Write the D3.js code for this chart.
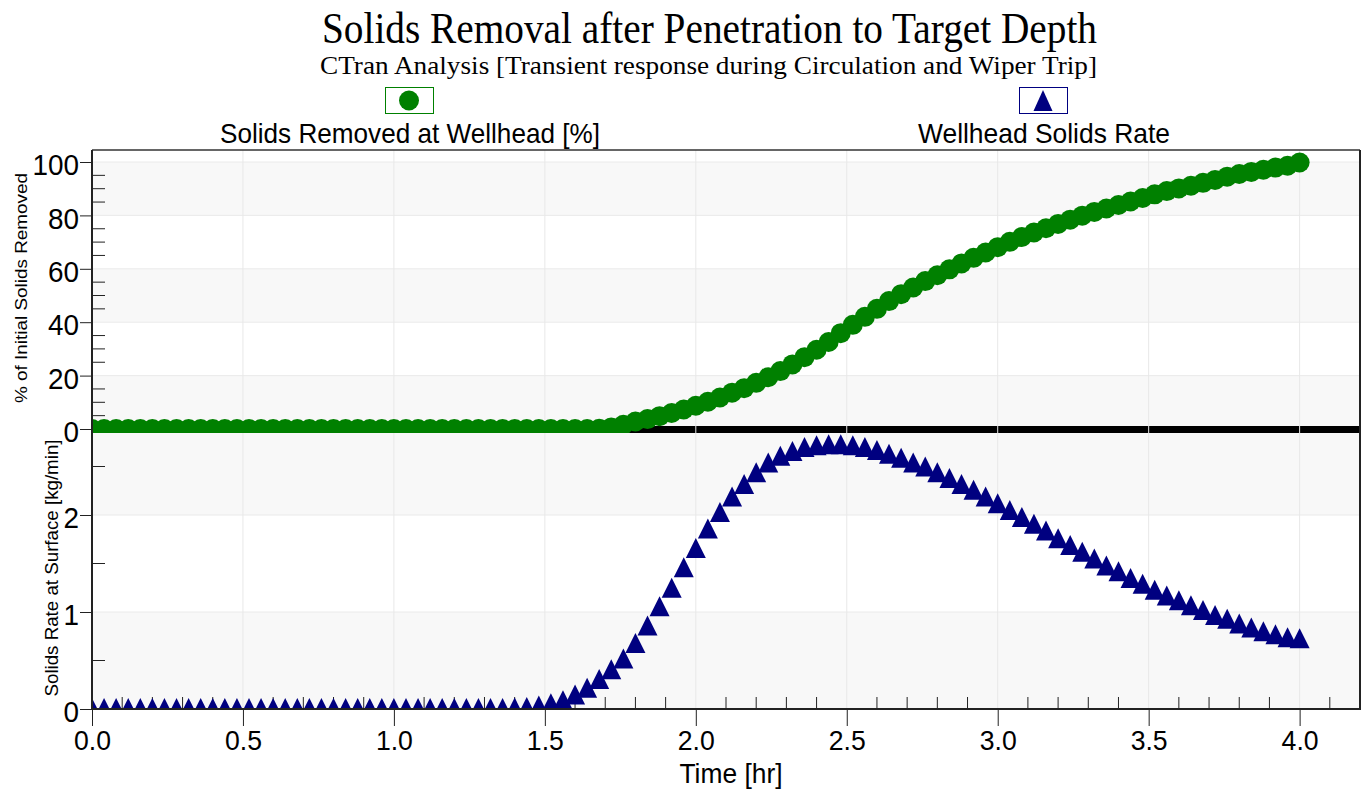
<!DOCTYPE html>
<html>
<head>
<meta charset="utf-8">
<script src="https://cdn.jsdelivr.net/npm/d3@7"></script>
<style>
  html, body { margin: 0; padding: 0; background: #fff; }
  svg { display: block; }
</style>
</head>
<body>
<svg id="chart" width="1364" height="792"></svg>
<script>
// ---------------- DATA ----------------
const timeHr = [
  0.00,0.04,0.08,0.12,0.16,0.20,0.24,0.28,0.32,0.36,
  0.40,0.44,0.48,0.52,0.56,0.60,0.64,0.68,0.72,0.76,
  0.80,0.84,0.88,0.92,0.96,1.00,1.04,1.08,1.12,1.16,
  1.20,1.24,1.28,1.32,1.36,1.40,1.44,1.48,1.52,1.56,
  1.60,1.64,1.68,1.72,1.76,1.80,1.84,1.88,1.92,1.96,
  2.00,2.04,2.08,2.12,2.16,2.20,2.24,2.28,2.32,2.36,
  2.40,2.44,2.48,2.52,2.56,2.60,2.64,2.68,2.72,2.76,
  2.80,2.84,2.88,2.92,2.96,3.00,3.04,3.08,3.12,3.16,
  3.20,3.24,3.28,3.32,3.36,3.40,3.44,3.48,3.52,3.56,
  3.60,3.64,3.68,3.72,3.76,3.80,3.84,3.88,3.92,3.96,
  4.00
];
// Solids Removed at Wellhead [%]
const solidsRemovedPct = [
  0,0,0,0,0,0,0,0,0,0,
  0,0,0,0,0,0,0,0,0,0,
  0,0,0,0,0,0,0,0,0,0,
  0,0,0,0,0,0,0,0,0,0,
  0,0,0.1,0.6,1.6,2.8,3.7,4.8,6.0,7.3,
  8.7,10.2,11.8,13.6,15.3,17.3,19.4,21.7,24.2,26.9,
  29.7,32.6,35.9,39.0,42.0,45.0,47.9,50.5,53.0,55.4,
  57.6,59.8,62.0,64.1,66.1,68.1,70.1,71.9,73.6,75.2,
  76.8,78.4,79.9,81.3,82.6,83.9,85.2,86.5,87.9,89.1,
  90.1,91.1,92.2,93.3,94.5,95.5,96.3,97.1,97.9,98.6,
  99.8
];
// Wellhead Solids Rate [kg/min]
const solidsRate = [
  0,0,0,0,0,0,0,0,0,0,
  0,0,0,0,0,0,0,0,0,0,
  0,0,0,0,0,0,0,0,0,0,
  0,0,0,0,0,0.005,0.01,0.025,0.05,0.08,
  0.14,0.21,0.30,0.40,0.51,0.67,0.85,1.05,1.24,1.45,
  1.65,1.85,2.02,2.18,2.31,2.43,2.53,2.60,2.65,2.69,
  2.71,2.72,2.72,2.71,2.69,2.66,2.62,2.58,2.53,2.49,
  2.43,2.37,2.31,2.25,2.18,2.11,2.04,1.97,1.90,1.83,
  1.75,1.68,1.61,1.54,1.47,1.41,1.34,1.28,1.22,1.16,
  1.11,1.06,1.01,0.96,0.92,0.87,0.83,0.79,0.76,0.73,
  0.72
];
const xTicks = [0.0,0.5,1.0,1.5,2.0,2.5,3.0,3.5,4.0];
const xMinorTicks = [0.1,0.2,0.3,0.4,0.6,0.7,0.8,0.9,1.1,1.2,1.3,1.4,1.6,1.7,1.8,1.9,2.1,2.2,2.3,2.4,2.6,2.7,2.8,2.9,3.1,3.2,3.3,3.4,3.6,3.7,3.8,3.9,4.1];
const yTopTicks = [0,20,40,60,80,100];
const yTopMinorTicks = [5,10,15,25,30,35,45,50,55,65,70,75,85,90,95];
const yBotTicks = [0,1,2];
const yBotMinorTicks = [0.5,1.5,2.5];
const titleText = "Solids Removal after Penetration to Target Depth";
const subtitleText = "CTran Analysis [Transient response during Circulation and Wiper Trip]";
const seriesNames = ["Solids Removed at Wellhead [%]", "Wellhead Solids Rate"];
const yTopLabel = "% of Initial Solids Removed";
const yBotLabel = "Solids Rate at Surface [kg/min]";
const xLabel = "Time [hr]";

// ---------------- LAYOUT ----------------
const L = 92, R = 1360, T = 150, MID = 429, B = 709;
const GREEN = "#008000", NAVY = "#000080";
const SANS = "'Liberation Sans', Arial, sans-serif";
const SERIF = "'Liberation Serif', 'Times New Roman', serif";

const svg = d3.select("#chart");
const x = d3.scaleLinear().domain([0, 4.2]).range([L, R]);
const yTop = d3.scaleLinear().domain([0, 100]).range([MID, 162]);
const yBot = d3.scaleLinear().domain([0, 2]).range([B, 515]);

const defs = svg.append("defs");
defs.append("clipPath").attr("id", "clipTop").append("rect")
  .attr("x", L).attr("y", T).attr("width", R - L).attr("height", 433 - T);
defs.append("clipPath").attr("id", "clipBot").append("rect")
  .attr("x", L).attr("y", 433).attr("width", R - L).attr("height", B - 433);

// bands
const topBands = [[0,20],[40,60],[80,100]];
svg.append("g").selectAll("rect").data(topBands).join("rect")
  .attr("x", L).attr("width", R - L)
  .attr("y", d => yTop(d[1])).attr("height", d => yTop(d[0]) - yTop(d[1]))
  .attr("fill", "#f8f8f8");
const botBands = [[0,1],[2,yBot.invert(MID)]];
svg.append("g").selectAll("rect").data(botBands).join("rect")
  .attr("x", L).attr("width", R - L)
  .attr("y", d => yBot(d[1])).attr("height", d => yBot(d[0]) - yBot(d[1]))
  .attr("fill", "#f8f8f8");

// horizontal gridlines
svg.append("g").selectAll("line").data(yTopTicks.filter(v => v > 0)).join("line")
  .attr("x1", L).attr("x2", R).attr("y1", d => yTop(d)).attr("y2", d => yTop(d))
  .attr("stroke", "#eaeaea").attr("stroke-width", 1);
svg.append("g").selectAll("line").data(yBotTicks.filter(v => v > 0)).join("line")
  .attr("x1", L).attr("x2", R).attr("y1", d => yBot(d)).attr("y2", d => yBot(d))
  .attr("stroke", "#eaeaea").attr("stroke-width", 1);

// thick separator bar
svg.append("rect").attr("x", L).attr("y", 426).attr("width", R - L).attr("height", 7).attr("fill", "#000");

// vertical gridlines (drawn over bar)
svg.append("g").selectAll("line").data(xTicks.filter(v => v > 0)).join("line")
  .attr("x1", d => x(d)).attr("x2", d => x(d)).attr("y1", T).attr("y2", B)
  .attr("stroke", "#e8e8e8").attr("stroke-width", 1);

// bottom minor ticks (inward)
svg.append("g").selectAll("line").data(xMinorTicks).join("line")
  .attr("x1", d => x(d)).attr("x2", d => x(d)).attr("y1", B).attr("y2", B - 12)
  .attr("stroke", "#222").attr("stroke-width", 1);

// series
const pts = timeHr.map((t, i) => ({ t, p: solidsRemovedPct[i], r: solidsRate[i] }));
svg.append("g").attr("clip-path", "url(#clipTop)")
  .selectAll("circle").data(pts).join("circle")
  .attr("cx", d => x(d.t)).attr("cy", d => yTop(d.p)).attr("r", 10)
  .attr("fill", GREEN);

const tri = "M0,-11L10,9L-10,9Z";
svg.append("g").attr("clip-path", "url(#clipBot)")
  .selectAll("path").data(pts).join("path")
  .attr("d", tri)
  .attr("transform", d => `translate(${x(d.t)},${yBot(d.r)})`)
  .attr("fill", NAVY);

// frame top & right
svg.append("line").attr("x1", L).attr("x2", R).attr("y1", T).attr("y2", T).attr("stroke", "#333").attr("stroke-width", 1.5);
svg.append("line").attr("x1", R).attr("x2", R).attr("y1", T).attr("y2", B).attr("stroke", "#222").attr("stroke-width", 2);

// left axis - top
const axTop = d3.axisLeft(yTop).tickValues(yTopTicks).tickSize(12).tickSizeOuter(0).tickPadding(1).tickFormat(d3.format("d"));
const gTop = svg.append("g").attr("transform", `translate(${L},0)`).call(axTop);
gTop.select(".domain").remove();
gTop.selectAll(".tick line").attr("stroke", "#222").attr("stroke-width", 1);
gTop.selectAll(".tick text").attr("font-family", SANS).attr("font-size", 29).attr("fill", "#000").attr("dy", "0.44em")
  .attr("textLength", d => String(d).length * 15.5).attr("lengthAdjust", "spacingAndGlyphs");

svg.append("g").selectAll("line").data(yTopMinorTicks).join("line")
  .attr("x1", L).attr("x2", L + 13).attr("y1", d => yTop(d)).attr("y2", d => yTop(d))
  .attr("stroke", "#222").attr("stroke-width", 1);

// left axis - bottom
const axBot = d3.axisLeft(yBot).tickValues(yBotTicks).tickSize(12).tickSizeOuter(0).tickPadding(1).tickFormat(d3.format("d"));
const gBot = svg.append("g").attr("transform", `translate(${L},0)`).call(axBot);
gBot.select(".domain").remove();
gBot.selectAll(".tick line").attr("stroke", "#222").attr("stroke-width", 1);
gBot.selectAll(".tick text").attr("font-family", SANS).attr("font-size", 29).attr("fill", "#000").attr("dy", "0.44em")
  .attr("textLength", 15.5).attr("lengthAdjust", "spacingAndGlyphs");

svg.append("g").selectAll("line").data(yBotMinorTicks).join("line")
  .attr("x1", L).attr("x2", L + 13).attr("y1", d => yBot(d)).attr("y2", d => yBot(d))
  .attr("stroke", "#222").attr("stroke-width", 1);

// left axis line
svg.append("line").attr("x1", L).attr("x2", L).attr("y1", T).attr("y2", B + 1).attr("stroke", "#222").attr("stroke-width", 2);

// x axis
const axX = d3.axisBottom(x).tickValues(xTicks).tickSize(17).tickSizeOuter(0).tickPadding(5).tickFormat(d3.format(".1f"));
const gX = svg.append("g").attr("transform", `translate(0,${B})`).call(axX);
gX.select(".domain").remove();
gX.selectAll(".tick line").attr("stroke", "#222").attr("stroke-width", 1);
gX.selectAll(".tick text").attr("font-family", SANS).attr("font-size", 28).attr("fill", "#000").attr("dy", "0.69em")
  .attr("textLength", 37).attr("lengthAdjust", "spacingAndGlyphs");
svg.append("line").attr("x1", L - 1).attr("x2", R + 1).attr("y1", B).attr("y2", B).attr("stroke", "#222").attr("stroke-width", 2);

// axis titles
svg.append("text").attr("transform", `translate(27,288) rotate(-90)`)
  .attr("text-anchor", "middle").attr("font-family", SANS).attr("font-size", 17)
  .attr("textLength", 230).attr("lengthAdjust", "spacingAndGlyphs").text(yTopLabel);
svg.append("text").attr("transform", `translate(58,568) rotate(-90)`)
  .attr("text-anchor", "middle").attr("font-family", SANS).attr("font-size", 18)
  .attr("textLength", 257).attr("lengthAdjust", "spacingAndGlyphs").text(yBotLabel);
svg.append("text").attr("x", 731).attr("y", 783)
  .attr("text-anchor", "middle").attr("font-family", SANS).attr("font-size", 28)
  .attr("textLength", 103).attr("lengthAdjust", "spacingAndGlyphs").text(xLabel);

// titles
svg.append("text").attr("x", 709.5).attr("y", 43)
  .attr("text-anchor", "middle").attr("font-family", SERIF).attr("font-size", 44)
  .attr("textLength", 775).attr("lengthAdjust", "spacingAndGlyphs").text(titleText);
svg.append("text").attr("x", 708.5).attr("y", 74)
  .attr("text-anchor", "middle").attr("font-family", SERIF).attr("font-size", 25)
  .attr("textLength", 777).attr("lengthAdjust", "spacingAndGlyphs").text(subtitleText);

// legend
const legend = [
  { name: seriesNames[0], bx: 385, cx: 409, color: GREEN, shape: "circle", tx: 410, tl: 380 },
  { name: seriesNames[1], bx: 1019, cx: 1043, color: NAVY, shape: "tri", tx: 1044, tl: 252 }
];
legend.forEach(l => {
  svg.append("rect").attr("x", l.bx + 0.5).attr("y", 87.5).attr("width", 48).attr("height", 26)
    .attr("fill", "#fff").attr("stroke", l.color).attr("stroke-width", 1);
  if (l.shape === "circle") {
    svg.append("circle").attr("cx", l.cx).attr("cy", 100.5).attr("r", 10).attr("fill", l.color);
  } else {
    svg.append("path").attr("d", "M0,-10.5L9.5,10.5L-9.5,10.5Z")
      .attr("transform", `translate(${l.cx},${100.5})`).attr("fill", l.color);
  }
  svg.append("text").attr("x", l.tx).attr("y", 143)
    .attr("text-anchor", "middle").attr("font-family", SANS).attr("font-size", 28)
    .attr("textLength", l.tl).attr("lengthAdjust", "spacingAndGlyphs").text(l.name);
});
</script>
</body>
</html>
